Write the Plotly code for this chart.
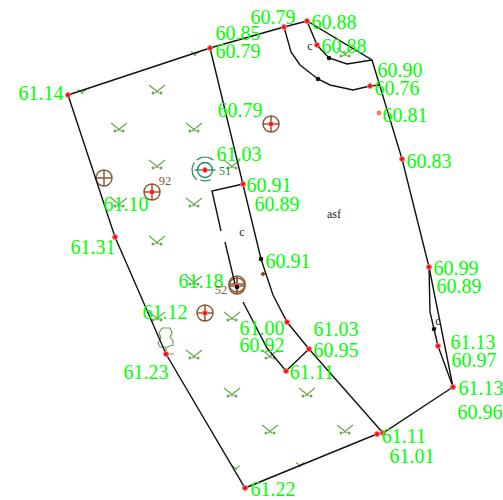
import numpy as np
import plotly.graph_objects as go

# All coordinates are map positions (x right, y down)
outer_x = [68, 210, 284, 307, 372, 402, 429, 453, 383, 377, 245, 166, 115, 68]
outer_y = [95, 48, 27, 21, 60, 159, 267, 387, 433, 434, 488, 354, 237, 95]
road_x = [210, 243, 261, 273, 287, 309, 383]
road_y = [48, 184, 259, 295, 322, 349, 433]
walk_segments_x = [243, 212, 221, None, 225, 235, None, 243, 250, 267, 286, 309]
walk_segments_y = [184, 191, 231, None, 242, 284, None, 302, 315, 348, 371, 349]
curve1_x = [284, 291, 300, 318, 330, 353, 370, 380]
curve1_y = [27, 52, 65, 79, 85, 90, 86, 85]
curve2_x = [307, 317, 329, 347, 372]
curve2_y = [21, 45, 58, 64, 60]
right_x = [429, 430, 434, 438, 453]
right_y = [267, 312, 329, 346, 387]

label_text = ["61.14", "60.85", "60.79", "60.79", "60.88", "60.88", "60.90", "60.76", "60.81", "60.83",
              "60.79", "61.03", "60.91", "60.89", "61.10", "61.31", "61.18", "61.12", "61.23", "60.91",
              "61.00", "60.92", "61.03", "60.95", "61.11", "60.99", "60.89", "61.13", "60.97", "61.13",
              "60.96", "61.11", "61.01", "61.22"]
label_x = [41, 238, 238, 273, 334, 344, 400, 397, 405, 429,
           240, 239, 269, 277, 126, 93, 201, 165, 146, 288,
           262, 262, 336, 336, 312, 456, 459, 473, 474, 481,
           480, 404, 412, 273]
label_y = [94.5, 34.5, 52.5, 18.5, 23.5, 47.5, 71.5, 89.5, 116.5, 162.5,
           111.5, 155.5, 186.5, 205.5, 205.5, 248.5, 282.5, 313.5, 373.5, 262.5,
           329.5, 346.5, 330.5, 351.5, 373.5, 269.5, 287.5, 343.5, 361.5, 389.5,
           413.5, 437.5, 457.5, 490.5]

red_x = [68, 210, 284, 307, 317, 370, 402, 429, 438, 453, 383, 377, 309, 287, 286, 245, 166, 115, 243,
         152, 271, 205, 237, 205]
red_y = [95, 48, 27, 21, 45, 86, 159, 267, 346, 387, 433, 434, 349, 322, 371, 488, 354, 237, 184,
         192, 124, 170, 286, 313]
pale_x = [379]
pale_y = [113]
black_x = [261, 329, 318, 434, 237]
black_y = [259, 58, 79, 329, 287]

grass_x = [157, 119, 194, 157, 232, 119, 194, 157, 194, 157, 232, 194, 232, 270, 307, 270, 345, 345]
grass_y = [90, 128, 128, 165, 165, 203, 203, 241, 281, 317, 317, 355, 393, 355, 393, 430, 430, 53]
small_grass_x = [82, 195, 236, 300]
small_grass_y = [92, 54, 468, 465]

well_x = [104, 152, 271, 237, 237, 205]
well_y = [178, 192, 124, 286, 284, 313]

tree_x = [162, 170, 172, 170, 173, 173, 167, 160, 158, 161, 159, 162, None, 166, 166, 174]
tree_y = [328, 328, 333, 337, 341, 345, 347, 347, 343, 338, 333, 328, None, 347, 354, 354]

green_center = (205, 170)
text_x = [310, 242, 438, 334]
text_y = [47, 233, 322, 215]
text_s = ["c", "c", "c", "asf"]
num_x = [165, 221]
num_y = [182, 291]
num_s = ["92", "52"]

GRASS = "#6aa84f"
BROWN = "#8a5a36"
TEAL = "#1e8a60"
LABEL = "#00ff00"
SERIF = "Liberation Serif"


def grass_lines(xs, ys, scale=1.0):
    lx, ly = [], []
    for x, y in zip(xs, ys):
        lx += [x - 8 * scale, x + 2 * scale, None, x + 8 * scale, x - 2 * scale, None]
        ly += [y - 5 * scale, y + 3 * scale, None, y - 5 * scale, y + 3 * scale, None]
    return lx, ly


def grass_dots(xs, ys, scale=1.0):
    dx, dy = [], []
    for x, y in zip(xs, ys):
        dx += [x - 4 * scale, x + 4 * scale]
        dy += [y + 3 * scale, y + 3 * scale]
    return dx, dy


def arcs(center, spans):
    ax, ay = [], []
    for a0, a1, r in spans:
        t = np.radians(np.linspace(a0, a1, 12))
        ax += list(center[0] + r * np.cos(t)) + [None]
        ay += list(center[1] - r * np.sin(t)) + [None]
    return ax, ay


def line(x, y, color="#111111", width=1.4):
    return go.Scatter(x=x, y=y, mode="lines", line=dict(color=color, width=width),
                      hoverinfo="skip", connectgaps=False)


fig = go.Figure()

# grass
gx, gy = grass_lines(grass_x, grass_y)
fig.add_trace(line(gx, gy, GRASS, 1.2))
dx, dy = grass_dots(grass_x, grass_y)
fig.add_trace(go.Scatter(x=dx, y=dy, mode="markers", marker=dict(color=GRASS, size=3), hoverinfo="skip"))
sx, sy = grass_lines(small_grass_x, small_grass_y, 0.5)
fig.add_trace(line(sx, sy, GRASS, 1.1))

# tree
fig.add_trace(line(tree_x, tree_y, GRASS, 1.2))

# green tree-circle with dashed outer ring
ax, ay = arcs(green_center, [(50, 130, 13), (145, 230, 13), (245, 300, 11)])
fig.add_trace(line(ax, ay, TEAL, 1.2))
fig.add_trace(go.Scatter(x=[green_center[0]], y=[green_center[1]], mode="markers",
                         marker=dict(symbol="circle-open", size=15, color=TEAL, line=dict(color=TEAL, width=1.3)),
                         hoverinfo="skip"))
fig.add_trace(go.Scatter(x=[green_center[0]], y=[green_center[1]], mode="markers",
                         marker=dict(symbol="line-ew", size=15, color=TEAL, line=dict(color=TEAL, width=1.3)),
                         hoverinfo="skip"))

# wells
fig.add_trace(go.Scatter(x=well_x, y=well_y, mode="markers",
                         marker=dict(symbol="circle-cross-open", size=16, color=BROWN, line=dict(color=BROWN, width=1.5)),
                         hoverinfo="skip"))

# linework
for xs, ys in [(outer_x, outer_y), (road_x, road_y), (walk_segments_x, walk_segments_y),
               (curve1_x, curve1_y), (curve2_x, curve2_y), (right_x, right_y)]:
    fig.add_trace(line(xs, ys))

# points
fig.add_trace(go.Scatter(x=red_x, y=red_y, mode="markers",
                         marker=dict(color="#ee1111", size=5, line=dict(color="#ff8080", width=1)), hoverinfo="skip"))
fig.add_trace(go.Scatter(x=pale_x, y=pale_y, mode="markers",
                         marker=dict(color="#f08a7a", size=4, line=dict(color="#ff6060", width=1)), hoverinfo="skip"))
fig.add_trace(go.Scatter(x=black_x, y=black_y, mode="markers",
                         marker=dict(color="#111111", size=4.5), hoverinfo="skip"))
fig.add_trace(go.Scatter(x=[263], y=[274], mode="markers",
                         marker=dict(color="#7a4a1c", size=4, symbol="diamond"), hoverinfo="skip"))

# texts
fig.add_trace(go.Scatter(x=label_x, y=label_y, mode="text", text=label_text, textposition="middle center",
                         textfont=dict(family=SERIF, size=20, color=LABEL), hoverinfo="skip"))
fig.add_trace(go.Scatter(x=text_x, y=text_y, mode="text", text=text_s, textposition="middle center",
                         textfont=dict(family=SERIF, size=12, color="#222222"), hoverinfo="skip"))
fig.add_trace(go.Scatter(x=num_x, y=num_y, mode="text", text=num_s, textposition="middle center",
                         textfont=dict(family=SERIF, size=12.5, color=BROWN), hoverinfo="skip"))
fig.add_trace(go.Scatter(x=[225], y=[172], mode="text", text=["51"], textposition="middle center",
                         textfont=dict(family=SERIF, size=12.5, color=TEAL), hoverinfo="skip"))

fig.update_layout(
    width=503, height=500, margin=dict(l=0, r=0, t=0, b=0),
    paper_bgcolor="white", plot_bgcolor="white", showlegend=False,
    xaxis=dict(range=[0, 503], visible=False, fixedrange=True),
    yaxis=dict(range=[500, 0], visible=False, fixedrange=True),
)
fig.write_html("out.html", config={"displayModeBar": False},
               post_script="document.body.style.margin='0';document.body.style.overflow='hidden';")
